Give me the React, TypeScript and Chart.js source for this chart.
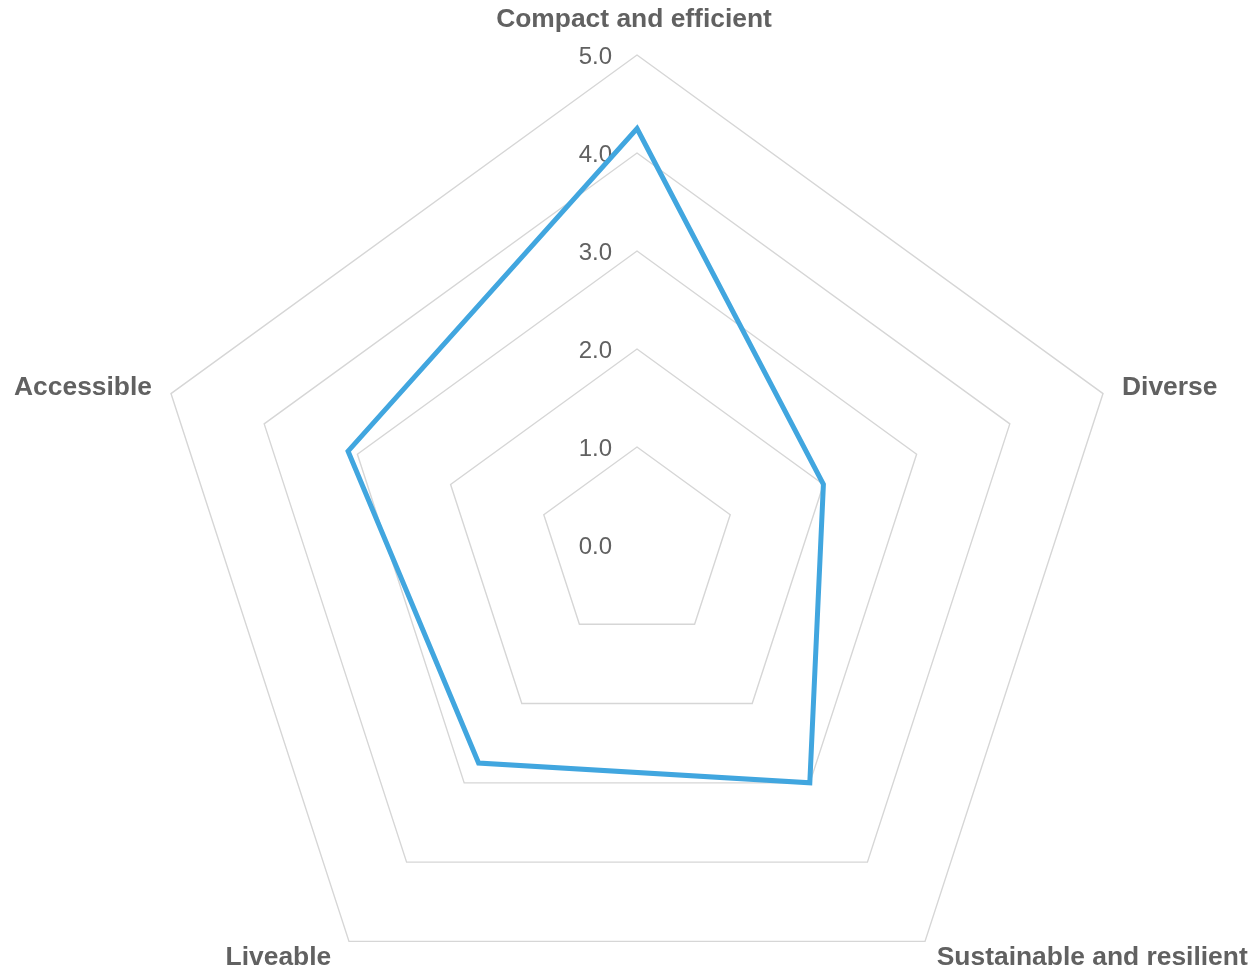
import React, { useEffect, useRef } from "react";
import { Chart, registerables } from "chart.js";

Chart.register(...registerables);

// ---- data ----
const categories = [
  "Compact and efficient",
  "Diverse",
  "Sustainable and resilient",
  "Liveable",
  "Accessible",
];
const scores = [4.25, 2.0, 3.0, 2.75, 3.1];
const tickValues = [0, 1, 2, 3, 4, 5];
const tickLabels = ["0.0", "1.0", "2.0", "3.0", "4.0", "5.0"];

// ---- styling / layout ----
const FONT = '"Liberation Sans", Arial, sans-serif';
const LINE_COLOR = "#41A6DF";
const GRID_COLOR = "#d6d6d6";
const TEXT_COLOR = "#616161";
const CENTER_X = 629;
const CENTER_Y = 537;
const RADIUS = 490;

const labelPlugin = {
  id: "customRadarLabels",
  beforeDatasetsDraw(chart: any) {
    const scale = chart.scales.r;
    const ctx = chart.ctx;
    ctx.save();
    ctx.font = `24px ${FONT}`;
    ctx.fillStyle = TEXT_COLOR;
    ctx.textAlign = "right";
    ctx.textBaseline = "middle";
    tickValues.forEach((v, i) => {
      const d = scale.getDistanceFromCenterForValue(v);
      ctx.fillText(tickLabels[i], scale.xCenter - 25, scale.yCenter - d + 2);
    });
    ctx.restore();
  },
  afterDatasetsDraw(chart: any) {
    const scale = chart.scales.r;
    const ctx = chart.ctx;
    ctx.save();
    ctx.font = `bold 26.4px ${FONT}`;
    ctx.fillStyle = TEXT_COLOR;
    categories.forEach((label, i) => {
      const angle = (scale.getIndexAngle(i) * 180) / Math.PI;
      const pos = scale.getPointPosition(i, scale.drawingArea + 20);
      if (angle < 1 || angle > 359) {
        ctx.textAlign = "center";
        ctx.textBaseline = "bottom";
        ctx.fillText(label, pos.x - 3, pos.y - 2);
      } else if (angle < 180) {
        ctx.textAlign = "left";
        ctx.textBaseline = "middle";
        ctx.fillText(label, pos.x, pos.y + (angle > 90 ? 0 : 0));
      } else {
        ctx.textAlign = "right";
        ctx.textBaseline = "middle";
        ctx.fillText(label, pos.x - (angle < 270 ? 6 : 0), pos.y + (angle < 270 ? 0 : 0));
      }
    });
    ctx.restore();
  },
};

export default function App() {
  const canvasRef = useRef<HTMLCanvasElement | null>(null);

  useEffect(() => {
    if (!canvasRef.current) return;
    const chart = new Chart(canvasRef.current, {
      type: "radar",
      data: {
        labels: categories,
        datasets: [
          {
            label: "Score",
            data: scores,
            borderColor: LINE_COLOR,
            backgroundColor: "transparent",
            borderWidth: 5,
            pointRadius: 0,
            pointHoverRadius: 0,
            fill: false,
            tension: 0,
            clip: false as any,
          },
        ],
      },
      options: {
        animation: false,
        responsive: true,
        maintainAspectRatio: false,
        layout: { padding: 0 },
        plugins: {
          legend: { display: false },
          tooltip: { enabled: false },
        },
        scales: {
          r: {
            min: 0,
            max: 5,
            ticks: { display: false, stepSize: 1 },
            angleLines: { display: false },
            grid: { color: GRID_COLOR, lineWidth: 1.4 },
            pointLabels: { display: false },
            afterFit: (scale: any) => {
              scale.xCenter = CENTER_X;
              scale.yCenter = CENTER_Y;
              scale.drawingArea = RADIUS;
            },
          } as any,
        },
      },
      plugins: [labelPlugin],
    });
    return () => chart.destroy();
  }, []);

  return (
    <div style={{ position: "relative", width: "1244px", height: "957px" }}>
      <canvas ref={canvasRef} />
    </div>
  );
}
